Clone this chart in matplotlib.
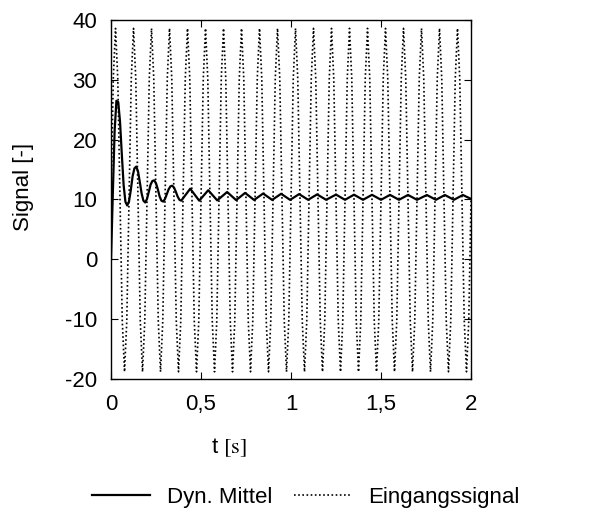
#!/usr/bin/env python3

import numpy as np
import matplotlib
matplotlib.use('Agg')
import matplotlib.pyplot as plt
import matplotlib.ticker as ticker

plt.rcParams['font.family'] = ['Liberation Sans', 'DejaVu Sans']
plt.rcParams['mathtext.fontset'] = 'stix'
plt.rcParams['axes.unicode_minus'] = False

#
# Input signal, sampled every 0.0125 s (8 samples per 0.1 s cycle)
#
in_step = 0.0125
in_values = [
    10, 30.2, 38.6, 30.2, 10, -10.3, -18.8, -10.3,
    10, 30.2, 38.6, 30.2, 10, -10.3, -18.8, -10.3,
    10, 30.2, 38.6, 30.2, 10, -10.3, -18.8, -10.3,
    10, 30.2, 38.6, 30.2, 10, -10.3, -18.8, -10.3,
    10, 30.2, 38.6, 30.2, 10, -10.3, -18.8, -10.3,
    10, 30.2, 38.6, 30.2, 10, -10.3, -18.8, -10.3,
    10, 30.2, 38.6, 30.2, 10, -10.3, -18.8, -10.3,
    10, 30.2, 38.6, 30.2, 10, -10.3, -18.8, -10.3,
    10, 30.2, 38.6, 30.2, 10, -10.3, -18.8, -10.3,
    10, 30.2, 38.6, 30.2, 10, -10.3, -18.8, -10.3,
    10, 30.2, 38.6, 30.2, 10, -10.3, -18.8, -10.3,
    10, 30.2, 38.6, 30.2, 10, -10.3, -18.8, -10.3,
    10, 30.2, 38.6, 30.2, 10, -10.3, -18.8, -10.3,
    10, 30.2, 38.6, 30.2, 10, -10.3, -18.8, -10.3,
    10, 30.2, 38.6, 30.2, 10, -10.3, -18.8, -10.3,
    10, 30.2, 38.6, 30.2, 10, -10.3, -18.8, -10.3,
    10, 30.2, 38.6, 30.2, 10, -10.3, -18.8, -10.3,
    10, 30.2, 38.6, 30.2, 10, -10.3, -18.8, -10.3,
    10, 30.2, 38.6, 30.2, 10, -10.3, -18.8, -10.3,
    10, 30.2, 38.6, 30.2, 10, -10.3, -18.8, -10.3,
    10,
]

#
# Dynamic mean: dense samples for the settling phase ...
#
mean_t_start = [i * 0.01 for i in range(40)]
mean_v_start = [
    0, 11, 21.5, 26.5, 26.3, 23.0, 17.5, 12.4, 9.6, 9.0,
    9.7, 11.6, 13.9, 15.2, 15.5, 14.7, 12.9, 11.0, 9.8, 9.5,
    10.1, 11.3, 12.5, 13.1, 13.2, 12.7, 11.7, 10.5, 9.8, 9.65,
    10.1, 10.9, 11.7, 12.2, 12.3, 12.0, 11.3, 10.5, 9.95, 9.8,
]
# ... then peaks and troughs of the remaining ripple
mean_t_ripple = [
    0.44, 0.49, 0.54, 0.59, 0.645, 0.695, 0.745, 0.795, 0.845, 0.895,
    0.945, 0.995, 1.045, 1.095, 1.145, 1.195, 1.25, 1.30, 1.35, 1.40,
    1.45, 1.50, 1.55, 1.60, 1.65, 1.70, 1.755, 1.805, 1.855, 1.905,
    1.955, 2.0,
]
mean_v_ripple = [
    11.8, 9.8, 11.55, 9.85, 11.25, 9.9, 11.1, 9.92, 11.0, 9.93,
    10.95, 9.94, 10.9, 9.95, 10.85, 9.95, 10.82, 9.95, 10.8, 9.95,
    10.78, 9.95, 10.77, 9.95, 10.76, 9.95, 10.75, 9.95, 10.75, 9.95,
    10.75, 10.1,
]

x_ticks = [0, 0.5, 1, 1.5, 2]
y_ticks = [-20, -10, 0, 10, 20, 30, 40]


def comma(v, pos):
    return ('%g' % v).replace('.', ',')


def main():
    t_in = np.arange(len(in_values)) * in_step
    t_mean = mean_t_start + mean_t_ripple
    v_mean = mean_v_start + mean_v_ripple

    fig = plt.figure(figsize=(5.95, 5.11), dpi=100)
    ax = fig.add_axes([0.1866, 0.2583, 0.605, 0.7026])

    l_mean, = ax.plot(t_mean, v_mean, '-', color='black', lw=1.6,
                      label='Dyn. Mittel', zorder=3)
    l_in, = ax.plot(t_in, in_values, color='black', lw=1.2,
                    linestyle=(0, (1, 1.5)), label='Eingangssignal', zorder=2)

    ax.set_xlim(0, 2)
    ax.set_ylim(-20, 40)
    ax.set_xticks(x_ticks)
    ax.set_yticks(y_ticks)
    ax.xaxis.set_major_formatter(ticker.FuncFormatter(comma))
    ax.tick_params(direction='in', top=True, right=True, length=5,
                   width=0.8, labelsize=16)
    ax.tick_params(axis='y', pad=10)
    ax.tick_params(axis='x', pad=11)
    for s in ax.spines.values():
        s.set_linewidth(1.0)

    ax.set_xlabel(r't $[\mathrm{s}]$', fontsize=16)
    ax.xaxis.set_label_coords(0.329, -0.16)
    ax.set_ylabel('Signal [-]', fontsize=16)
    ax.yaxis.set_label_coords(-0.215, 0.536)

    fig.legend(handles=[l_mean, l_in], loc='center',
               bbox_to_anchor=(306 / 595, 14 / 511), ncol=2, frameon=False,
               fontsize=16, handlelength=2.6, handletextpad=0.75,
               columnspacing=1.0)

    fig.savefig('out.png', dpi=100)


if __name__ == '__main__':
    main()
